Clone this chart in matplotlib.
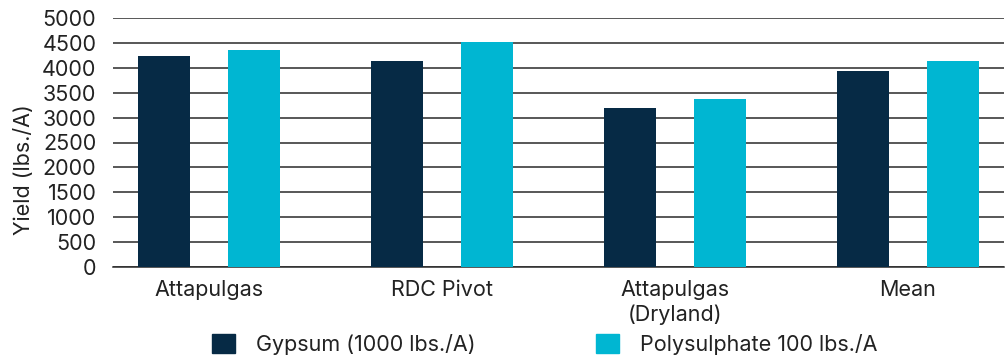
import matplotlib
matplotlib.use("Agg")
import matplotlib.pyplot as plt
import numpy as np
from matplotlib.patches import Patch

plt.rcParams['font.family'] = ['Inter', 'DejaVu Sans']

categories = ["Attapulgas", "RDC Pivot", "Attapulgas\n(Dryland)", "Mean"]
gypsum = [4230, 4130, 3190, 3935]
polysulphate = [4350, 4510, 3370, 4130]
series_names = ["Gypsum (1000 lbs./A)", "Polysulphate 100 lbs./A"]
yticks = [0, 500, 1000, 1500, 2000, 2500, 3000, 3500, 4000, 4500, 5000]

c_dark = "#062a45"
c_cyan = "#00b6d2"
fs = 15.5

fig = plt.figure(figsize=(10.05, 3.58), dpi=100)
ax = fig.add_axes([113/1005, 1-267.3/358, (1004-113)/1005, (267.3-17.7)/358])

x = np.arange(len(categories))
w = 0.227
off = 0.193
ax.bar(x - off, gypsum, w, color=c_dark, zorder=3)
ax.bar(x + off, polysulphate, w, color=c_cyan, zorder=3)

ax.set_xlim(-0.412, 3.412)
ax.set_ylim(0, 5000)
ax.set_yticks(yticks)
ax.set_xticks(x)
ax.set_xticklabels(categories, fontsize=fs, color="#222222", linespacing=1.3)
ax.tick_params(axis='y', length=0, pad=12, labelsize=fs, labelcolor="#222222")
ax.tick_params(axis='x', length=0, pad=9)
ax.yaxis.grid(True, color="#2a2a2a", linewidth=1.1, zorder=0)
for s in ['top', 'right', 'left']:
    ax.spines[s].set_visible(False)
ax.spines['bottom'].set_color("#2a2a2a")
ax.spines['bottom'].set_linewidth(1.1)
ax.set_axisbelow(True)
ax.set_ylabel("Yield (lbs./A)", fontsize=15.5, color="#222222")
ax.yaxis.set_label_coords(-(113 - 34) / 891, (267.3 - 169.5) / 249.6)

handles = [Patch(color=c_dark), Patch(color=c_cyan)]
fig.legend(handles, series_names, loc='lower center', bbox_to_anchor=(545/1005, -0.045),
           ncol=2, frameon=False, fontsize=fs, handlelength=1.05, handleheight=1.0,
           handletextpad=1.0, columnspacing=5.6, labelcolor="#222222")

fig.savefig("out.png", dpi=100)
